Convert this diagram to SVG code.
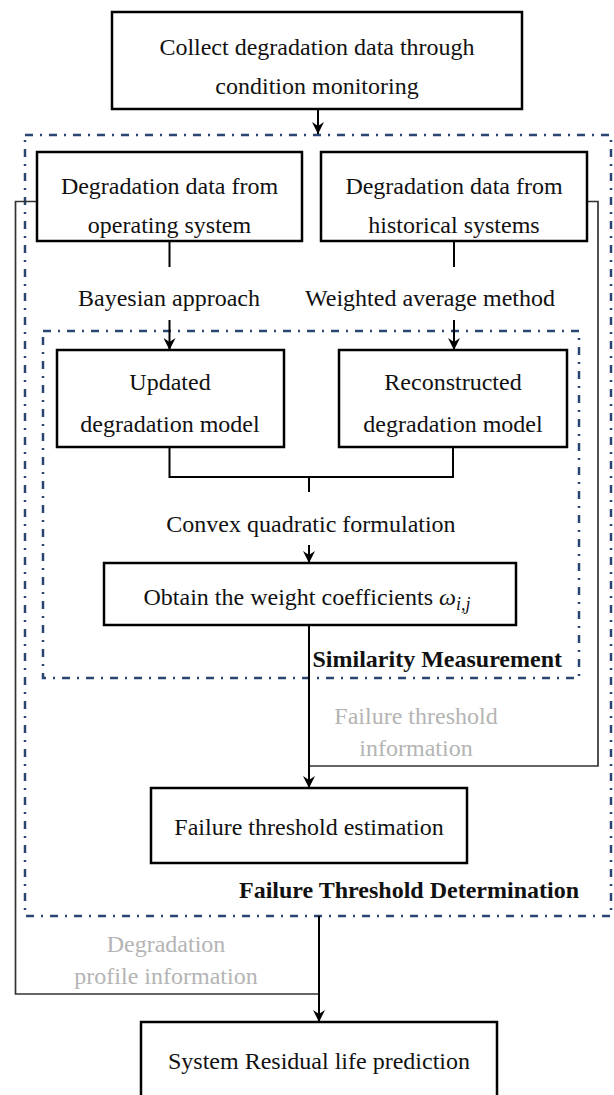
<svg xmlns="http://www.w3.org/2000/svg" width="614" height="1095" viewBox="0 0 614 1095">
<style>
.box{fill:#fff;stroke:#000;stroke-width:2.5}
.t{font-family:"Liberation Serif","Times New Roman",serif;font-size:24px;fill:#111;text-anchor:middle}
.b{font-weight:bold;text-anchor:end}
.g{fill:#b4b4b4}
.dash{fill:none;stroke:#2b4572;stroke-width:2.5;stroke-dasharray:8 7 2 7}
.ln{fill:none;stroke:#000;stroke-width:2}
.gl{fill:none;stroke:#333;stroke-width:1.7}
</style>
<defs>
<marker id="ah" markerUnits="userSpaceOnUse" viewBox="0 0 12 12" refX="12" refY="6" markerWidth="12" markerHeight="12" orient="auto">
<path d="M0,0 L12,6 L0,12 L4,6 Z" fill="#000"/>
</marker>
</defs>
<g id="containers">
<rect class="dash" x="25" y="135" width="586" height="781"/>
<rect class="dash" x="43" y="331" width="536" height="347"/>
<text class="t b" x="562" y="667">Similarity Measurement</text>
<text class="t b" x="579" y="898">Failure Threshold Determination</text>
</g>
<g id="connectors">
<path class="gl" d="M587,201.5 H598 V766 H309"/>
<path class="gl" d="M37,201.5 H15.5 V994 H319"/>
<path class="ln" d="M318,109 V134" marker-end="url(#ah)"/>
<path class="ln" d="M169.5,241 V267"/>
<path class="ln" d="M454,241 V267"/>
<path class="ln" d="M169.5,320 V350" marker-end="url(#ah)"/>
<path class="ln" d="M454,320 V350" marker-end="url(#ah)"/>
<path class="ln" d="M169.5,447 V477 H453 V447"/>
<path class="ln" d="M309,477 V492"/>
<path class="ln" d="M309,545 V563" marker-end="url(#ah)"/>
<path class="ln" d="M309,625 V788" marker-end="url(#ah)"/>
<path class="ln" d="M319,916 V1022" marker-end="url(#ah)"/>
<text class="t" x="169" y="306">Bayesian approach</text>
<text class="t" x="430" y="306">Weighted average method</text>
<text class="t" x="311" y="532">Convex quadratic formulation</text>
<text class="t g" x="416" y="724">Failure threshold</text>
<text class="t g" x="416" y="756">information</text>
<text class="t g" x="166" y="952">Degradation</text>
<text class="t g" x="166" y="984">profile information</text>
</g>
<g id="n_collect">
<rect class="box" x="112" y="12" width="410" height="97"/>
<text class="t" x="317" y="55">Collect degradation data through</text>
<text class="t" x="317" y="94">condition monitoring</text>
</g>
<g id="n_operating">
<rect class="box" x="37" y="152" width="265" height="89"/>
<text class="t" x="169.5" y="194">Degradation data from</text>
<text class="t" x="169.5" y="233">operating system</text>
</g>
<g id="n_historical">
<rect class="box" x="321" y="152" width="266" height="89"/>
<text class="t" x="454" y="194">Degradation data from</text>
<text class="t" x="454" y="233">historical systems</text>
</g>
<g id="n_updated">
<rect class="box" x="57" y="350" width="227" height="97"/>
<text class="t" x="170" y="390">Updated</text>
<text class="t" x="170" y="432">degradation model</text>
</g>
<g id="n_reconstructed">
<rect class="box" x="339" y="350" width="228" height="97"/>
<text class="t" x="453" y="390">Reconstructed</text>
<text class="t" x="453" y="432">degradation model</text>
</g>
<g id="n_weights">
<rect class="box" x="104" y="563" width="412" height="62"/>
<text class="t" x="307" y="605">Obtain the weight coefficients  <tspan font-style="italic">ω</tspan><tspan font-style="italic" font-size="18" dy="5">i,j</tspan></text>
</g>
<g id="n_threshold">
<rect class="box" x="151" y="788" width="316" height="75"/>
<text class="t" x="309" y="835">Failure threshold estimation</text>
</g>
<g id="n_rul">
<rect class="box" x="141" y="1022" width="356" height="80"/>
<text class="t" x="319" y="1069">System Residual life prediction</text>
</g>
</svg>
